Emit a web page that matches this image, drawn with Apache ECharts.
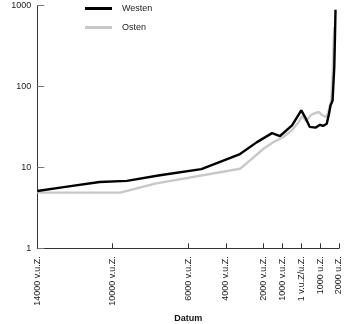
<!DOCTYPE html>
<html>
<head>
<meta charset="utf-8">
<script src="https://cdn.jsdelivr.net/npm/echarts@6/dist/echarts.min.js"></script>
<style>
  html, body { margin: 0; padding: 0; background: #fff; }
  #chart { width: 350px; height: 324px; }
</style>
</head>
<body>
<div id="chart"></div>
<script>
// Social development index, West vs. East (log scale)
const westYears  = [-14000, -12600, -10700, -9250, -7500, -5300, -3250, -2350, -1550, -1130, -490, 0, 200, 450, 750, 1000, 1150, 1350, 1470, 1550, 1660, 1750, 1790, 1815];
const westValues = [5.1, 5.7, 6.6, 6.8, 8.0, 9.5, 14.6, 20.5, 26.5, 24.4, 33, 50.6, 41.8, 31.6, 31, 33.6, 32.5, 34.6, 46, 58, 67, 173, 447, 885];

const eastYears  = [-14000, -9600, -7750, -3250, -2720, -2000, -1570, -955, -510, -150, 50, 260, 500, 640, 940, 1120, 1310, 1430, 1590, 1665, 1720, 1750];
const eastValues = [4.87, 4.87, 6.3, 9.6, 12.2, 17, 19.9, 23.7, 28.6, 36, 43, 37.5, 44, 46, 48.3, 44, 41.8, 48, 67, 143, 370, 540];

const xTickValues = [-14000, -10000, -6000, -4000, -2000, -1000, 0, 1000, 2000];
const xTickLabels = ['14000 v.u.Z.', '10000 v.u.Z.', '6000 v.u.Z.', '4000 v.u.Z.', '2000 v.u.Z.', '1000 v.u.Z.', '1 v.u.Z/u.Z.', '1000 u.Z.', '2000 u.Z.'];

const seriesNames = ['Westen', 'Osten'];

const zip = (xs, ys) => xs.map((x, i) => [x, ys[i]]);
const FONT = 'Liberation Sans';

const chart = echarts.init(document.getElementById('chart'), null, { renderer: 'canvas' });
chart.setOption({
  animation: false,
  backgroundColor: '#ffffff',
  textStyle: { fontFamily: FONT },
  legend: {
    data: seriesNames,
    orient: 'vertical',
    left: 85,
    top: 4,
    padding: 0,
    icon: 'rect',
    itemWidth: 27,
    itemHeight: 3,
    itemGap: 10,
    textStyle: { fontFamily: FONT, fontSize: 9, color: '#222', padding: [0, 0, 0, 5] }
  },
  grid: { left: 37.3, right: 11, top: 5.5, bottom: 75.7, containLabel: false, outerBoundsMode: 'none' },
  xAxis: {
    type: 'value',
    min: -14000,
    max: 2000,
    name: 'Datum',
    nameLocation: 'middle',
    nameGap: 61,
    nameTextStyle: { fontFamily: FONT, fontSize: 9, fontWeight: 'bold', color: '#111' },
    splitLine: { show: false },
    axisLine: { onZero: false, lineStyle: { color: '#333', width: 1 } },
    axisTick: { inside: true, length: 5, customValues: xTickValues, lineStyle: { color: '#333' } },
    axisLabel: {
      customValues: xTickValues,
      rotate: 90,
      margin: 8,
      fontSize: 9,
      color: '#222',
      fontFamily: FONT,
      formatter: v => {
        const i = xTickValues.indexOf(v);
        return i >= 0 ? xTickLabels[i] : '';
      }
    }
  },
  yAxis: {
    type: 'log',
    logBase: 10,
    min: 1,
    max: 1000,
    name: 'soziale Entwicklung',
    nameLocation: 'middle',
    nameGap: 29,
    nameTextStyle: { fontFamily: FONT, fontSize: 9, fontWeight: 'bold', color: '#111' },
    splitLine: { show: false },
    minorTick: { show: false },
    axisLine: { show: true, onZero: false, lineStyle: { color: '#333', width: 1 } },
    axisTick: { show: true, inside: true, length: 7, lineStyle: { color: '#777' } },
    axisLabel: { fontSize: 9, color: '#222', fontFamily: FONT, margin: 6, formatter: v => String(Math.round(v)) }
  },
  series: [
    {
      name: 'Westen',
      type: 'line',
      z: 3,
      data: zip(westYears, westValues),
      symbol: 'none',
      lineStyle: { color: '#000', width: 2.4 },
      itemStyle: { color: '#000' }
    },
    {
      name: 'Osten',
      type: 'line',
      z: 2,
      data: zip(eastYears, eastValues),
      symbol: 'none',
      lineStyle: { color: '#c8c8c8', width: 2.4 },
      itemStyle: { color: '#c8c8c8' }
    }
  ]
});
</script>
</body>
</html>
